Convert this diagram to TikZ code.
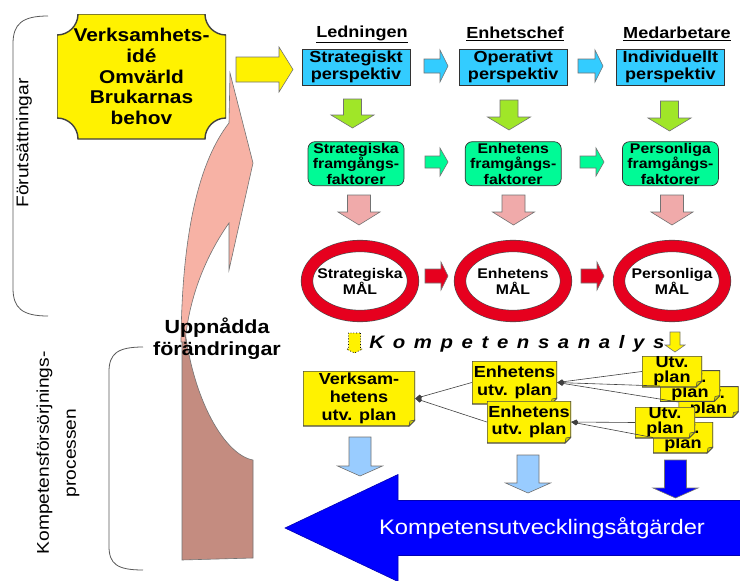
\documentclass[tikz,border=0pt]{standalone}
\usepackage{fontspec}
\setmainfont{Liberation Sans}[FakeStretch=1.13]
\usepackage{xcolor}
\usepackage{tikz}
\usetikzlibrary{arrows.meta,positioning,shapes.geometric}
\definecolor{perspblue}{RGB}{51,204,255}
\definecolor{factgreen}{RGB}{0,250,150}
\definecolor{arrowlime}{RGB}{160,230,40}
\definecolor{softpink}{RGB}{240,170,170}
\definecolor{goalred}{RGB}{230,0,30}
\definecolor{changepink}{RGB}{247,178,165}
\definecolor{changebrown}{RGB}{196,140,128}
\definecolor{planblue}{RGB}{153,204,255}
\definecolor{actionblue}{RGB}{0,0,255}
\definecolor{foldyellow}{RGB}{205,205,0}
% block arrow: style, tail, angle, length, half body, half head, head length
\newcommand\blockarrow[7]{%
  \filldraw[#1, shift={#2}, rotate=#3] (0,{-#5}) -- ({#4-#7},{-#5}) -- ({#4-#7},{-#6}) -- (#4,0)
    -- ({#4-#7},{#6}) -- ({#4-#7},{#5}) -- (0,{#5}) -- cycle;}
\begin{document}
\begin{tikzpicture}[x=1pt,y=-1pt]
  \tikzstyle{persp} = [draw=black!80, fill=perspblue, line width=0.7pt, minimum width=108pt, minimum height=36pt, inner sep=0pt, align=center, font=\fontsize{16}{17.5}\selectfont\bfseries]
  \tikzstyle{factor} = [draw=black!80, fill=factgreen, line width=0.7pt, rounded corners=7pt, minimum width=96pt, minimum height=44pt, inner sep=0pt, align=center, font=\fontsize{14}{15.3}\selectfont\bfseries]
  \tikzstyle{goal} = [ellipse, draw=black!70, line width=0.6pt, double=goalred, double distance=11pt, fill=white, minimum width=106pt, minimum height=70pt, inner xsep=-8pt, inner ysep=0pt, align=center, font=\fontsize{14}{16}\selectfont\bfseries]
  \tikzstyle{header} = [inner sep=0pt, font=\fontsize{16}{18}\selectfont\bfseries]
  \tikzstyle{plannote} = [rectangle, inner sep=0pt, align=center, font=\fontsize{16}{17.5}\selectfont\bfseries,
    path picture={
      \filldraw[fill=yellow, draw=black!70, line width=1.2pt] (path picture bounding box.north west) -- (path picture bounding box.north east)
        -- ([yshift=6pt]path picture bounding box.south east) -- ([xshift=-6pt]path picture bounding box.south east)
        -- (path picture bounding box.south west) -- cycle;
      \filldraw[fill=foldyellow, draw=black!70, line width=0.5pt] ([yshift=6pt]path picture bounding box.south east)
        -- ([xshift=-6pt]path picture bounding box.south east) -- ([xshift=-5pt,yshift=5pt]path picture bounding box.south east) -- cycle;
    }]
  \tikzstyle{utvnote} = [plannote, minimum width=60pt, minimum height=31pt, font=\fontsize{16}{15}\selectfont\bfseries]
  \tikzstyle{vision} = [rectangle, inner sep=0pt, minimum width=169pt, minimum height=125pt, align=center, font=\fontsize{18.5}{20.7}\selectfont\bfseries,
    path picture={
      \filldraw[fill=yellow, draw=black!75, line width=1.4pt]
        ([xshift=21pt]path picture bounding box.north west) -- ([xshift=-21pt]path picture bounding box.north east)
        arc[start angle=180, end angle=270, radius=21pt] -- ([yshift=21pt]path picture bounding box.south east)
        arc[start angle=90, end angle=180, radius=21pt] -- ([xshift=21pt]path picture bounding box.south west)
        arc[start angle=0, end angle=90, radius=21pt] -- ([yshift=-21pt]path picture bounding box.north west)
        arc[start angle=270, end angle=360, radius=21pt] -- cycle;
    }]
  \tikzstyle{sidetext} = [rotate=90, inner sep=0pt, align=center, font=\fontsize{17}{27}\selectfont]
  \tikzstyle{bracket} = [draw=black!65, line width=0.8pt]
  \tikzstyle{feed} = [draw=black!75, line width=0.6pt, -{Kite[length=7pt,width=5pt]}]
  \tikzstyle{edgeline} = [draw=black!55, line width=0.6pt]

  \fill[white] (0,0) rectangle (740,581);
  \useasboundingbox (0,0) rectangle (740,581);

  % left brackets
  \draw[bracket] (48,16) .. controls (22,16) and (13,24) .. (13,44) -- (13,288) .. controls (13,308) and (22,316) .. (48,316);
  \draw[bracket] (143,347) .. controls (117,347) and (109,354) .. (109,372) -- (109,546) .. controls (109,564) and (117,570) .. (143,570);
  \node[sidetext] (forut) at (24,143) {Förutsättningar};
  \node[sidetext] (process) at (58,453) {Kompetensförsörjnings-\\processen};

  % curved arrow
  \filldraw[edgeline, fill=changebrown] (182,322) -- (182,560) -- (253,558) -- (253,460)
    .. controls (225,455) and (192,400) .. (184,322) -- cycle;
  \filldraw[edgeline, fill=changepink] (230,73) -- (253,163) -- (229,270) -- (229,223)
    .. controls (210,250) and (190,290) .. (185,342) -- (181,342)
    .. controls (182,230) and (200,160) .. (229,123) -- cycle;
  \node[align=center, inner sep=0pt, font=\fontsize{19}{22}\selectfont\bfseries] (change) at (217,339) {Uppnådda\\förändringar};

  % top row
  \node[vision] (vision) at (141.5,76.5) {Verksamhets-\\idé\\Omvärld\\Brukarnas\\behov};
  \blockarrow{edgeline, fill=yellow}{(236,69.5)}{0}{57}{12.5}{22.5}{14}

  \node[persp] (strat) at (356,67) {Strategiskt\\perspektiv};
  \node[persp, right=48.5pt of strat] (oper) {Operativt\\perspektiv};
  \node[persp, right=48.5pt of oper] (indiv) {Individuellt\\perspektiv};
  \node[header] (lead) at (362,34) {\underline{Ledningen}};
  \node[header] (chief) at (515,34) {\underline{Enhetschef}};
  \node[header] (staff) at (677,34) {\underline{Medarbetare}};
  \blockarrow{edgeline, fill=perspblue}{(424,66)}{0}{24}{7}{16}{8}
  \blockarrow{edgeline, fill=perspblue}{(578,66)}{0}{25}{7}{16}{8}

  \blockarrow{edgeline, fill=arrowlime}{(352.5,99)}{-90}{29}{9}{21.5}{13}
  \blockarrow{edgeline, fill=arrowlime}{(509,100)}{-90}{30}{9}{21.5}{13}
  \blockarrow{edgeline, fill=arrowlime}{(669.5,101)}{-90}{30}{9}{21.5}{13}

  % success factors
  \node[factor, below=56pt of strat] (sfakt) {Strategiska\\framgångs-\\faktorer};
  \node[factor, below=56pt of oper] (efakt) {Enhetens\\framgångs-\\faktorer};
  \node[factor, below=56pt of indiv] (pfakt) {Personliga\\framgångs-\\faktorer};
  \blockarrow{edgeline, fill=factgreen}{(425,162)}{0}{23}{6}{14}{8}
  \blockarrow{edgeline, fill=factgreen}{(580,162)}{0}{24}{6}{14}{8}

  \blockarrow{edgeline, fill=softpink}{(359,195)}{-90}{30}{11.5}{21}{13}
  \blockarrow{edgeline, fill=softpink}{(513.5,195)}{-90}{30}{11.5}{21}{13}
  \blockarrow{edgeline, fill=softpink}{(672,195)}{-90}{30}{11.5}{21}{13}

  % goals
  \node[goal] (smal) at (360,281) {Strategiska\\MÅL};
  \node[goal] (emal) at (513,281) {Enhetens\\MÅL};
  \node[goal] (pmal) at (672,281) {Personliga\\MÅL};
  \blockarrow{edgeline, fill=goalred}{(425,276)}{0}{23}{7}{14}{7}
  \blockarrow{edgeline, fill=goalred}{(581,276)}{0}{23}{7}{14}{7}

  % analysis
  \node[inner sep=0pt, font=\fontsize{18}{20}\selectfont\bfseries\itshape\addfontfeature{LetterSpace=48}] (analys) at (517,344) {Kompetensanalys};
  \blockarrow{draw=black, dotted, line width=0.8pt, fill=yellow}{(354.5,333)}{-90}{20}{6}{8}{4}
  \blockarrow{edgeline, fill=yellow}{(675,332)}{-90}{20}{5}{10}{7}

  % plans
  \node[plannote, minimum width=112pt, minimum height=55pt, font=\fontsize{16}{18}\selectfont\bfseries] (verk) at (359,398.5) {Verksam-\\hetens\\utv. plan};
  \node[plannote, minimum width=85pt, minimum height=43pt] (enh1) at (514.5,382.5) {Enhetens\\utv. plan};
  \node[plannote, minimum width=84pt, minimum height=42pt] (enh2) at (529,422) {Enhetens\\utv. plan};
  \node[utvnote] (utv3) at (708.5,402) {Utv.\\plan};
  \node[utvnote] (utv2) at (690,386) {Utv.\\plan};
  \node[utvnote] (utv1) at (672,371.5) {Utv.\\plan};
  \node[utvnote] (utv5) at (683,437.5) {Utv.\\plan};
  \node[utvnote] (utv4) at (665,422.5) {Utv.\\plan};

  \draw[feed] (enh1.west) -- (verk.east);
  \draw[feed] (enh2.west) -- (verk.east);
  \draw[feed] (utv1.west) -- (enh1.east);
  \draw[feed] (utv2.west) -- (enh1.east);
  \draw[feed] (utv3.west) -- (enh1.east);
  \draw[feed] (utv4.west) -- (enh2.east);
  \draw[feed] (utv5.west) -- (enh2.east);

  % actions
  \blockarrow{edgeline, fill=planblue}{(360,437)}{-90}{39}{11}{22.5}{10}
  \blockarrow{edgeline, fill=planblue}{(528,455)}{-90}{38}{11}{22.5}{10}
  \blockarrow{edgeline, fill=actionblue}{(675.5,460)}{-90}{38}{11}{22.5}{10}
  \blockarrow{draw=actionblue!70!black, line width=0.6pt, fill=actionblue}{(741,528)}{180}{456}{27.5}{53.5}{113}
  \node[inner sep=0pt, text=white, font=\fontsize{21}{24}\selectfont] (actions) at (542,528) {Kompetensutvecklingsåtgärder};
\end{tikzpicture}
\end{document}
